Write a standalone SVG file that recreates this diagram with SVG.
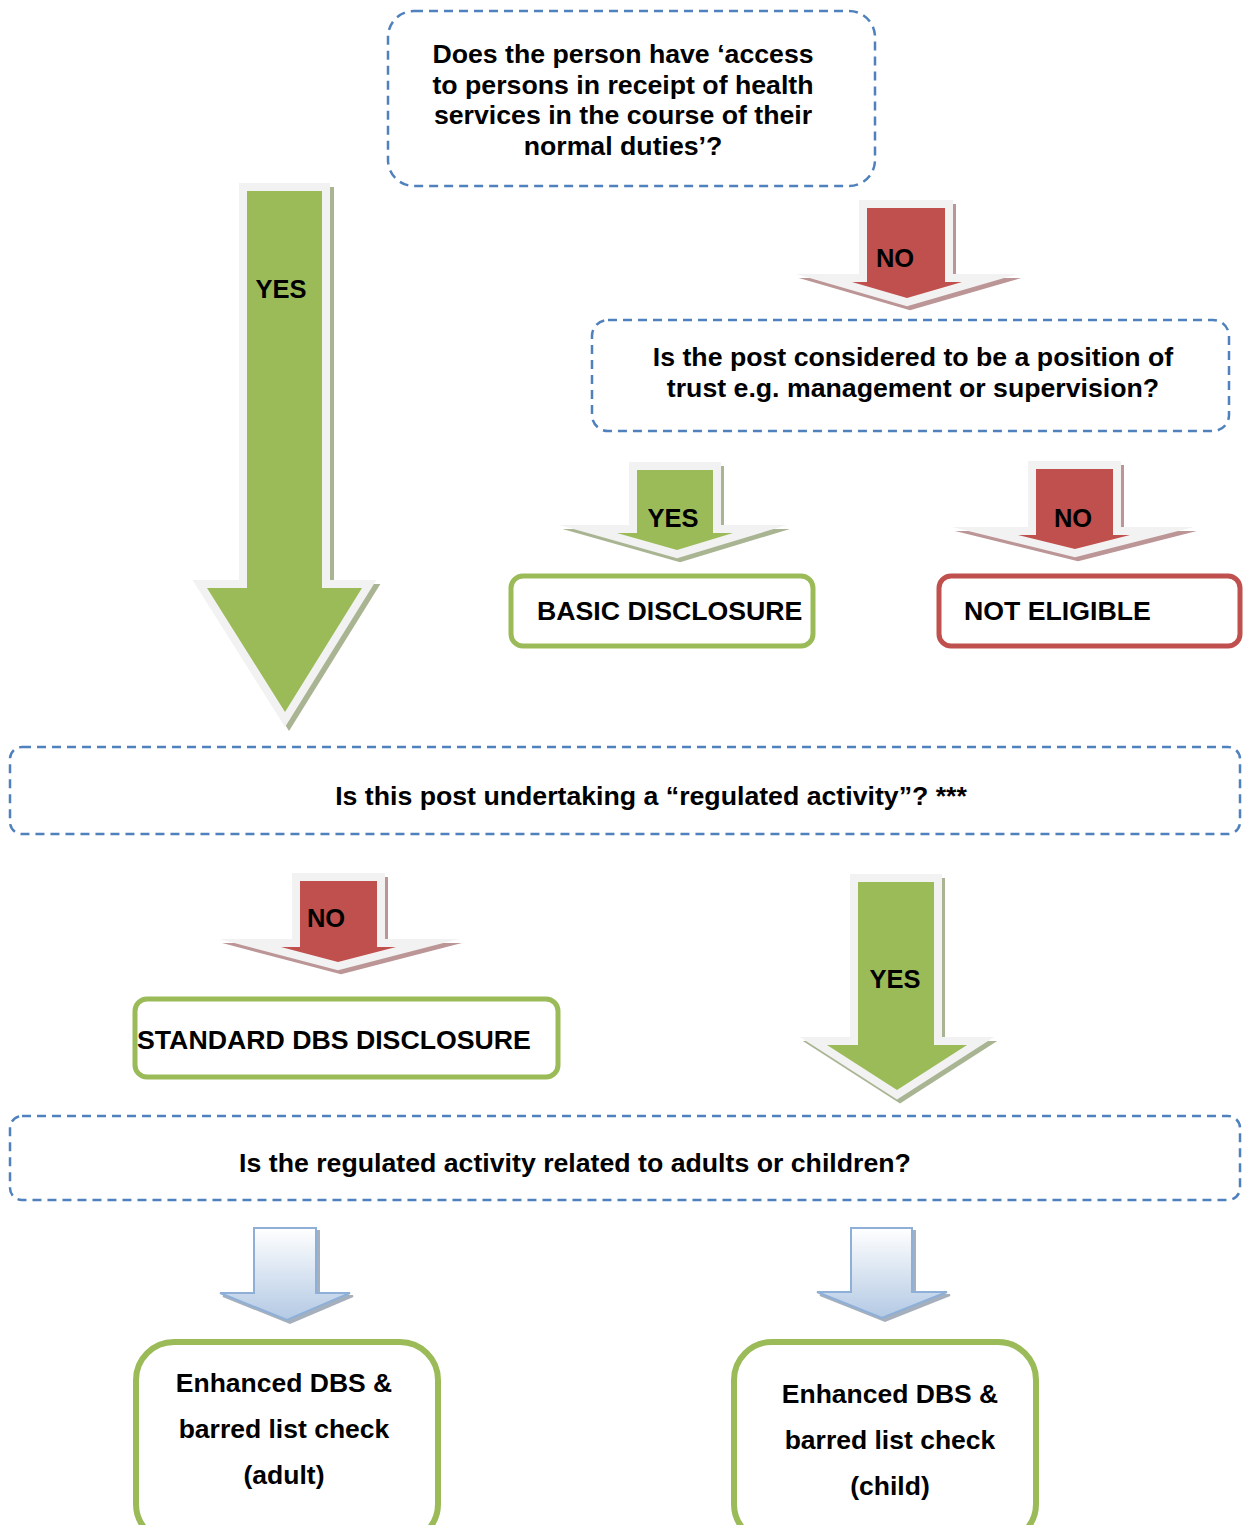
<svg xmlns="http://www.w3.org/2000/svg" width="1243" height="1525" viewBox="0 0 1243 1525">
<defs>
<linearGradient id="blueGrad" x1="0" y1="0" x2="0" y2="1">
<stop offset="0" stop-color="#ffffff"/>
<stop offset="1" stop-color="#b3c9e4"/>
</linearGradient>
</defs>
<style>
text{font-family:"Liberation Sans",Arial,sans-serif;font-weight:bold;fill:#000;}
.t{font-size:26.7px;}
.e{font-size:26.5px;}
.lbl{font-size:25.5px;text-anchor:middle;}
.c{text-anchor:middle;}
.dash{fill:#fff;stroke:#4f81bd;stroke-width:2.5;stroke-dasharray:9 6;}
.gbox{fill:#fff;stroke:#9bbb59;stroke-width:5;}
.rbox{fill:#fff;stroke:#c0504d;stroke-width:5;}
.gbig{fill:#fff;stroke:#9bbb59;stroke-width:6;}
.ga{fill:#9bbb59;stroke:#f2f2f2;stroke-width:16;stroke-linejoin:miter;stroke-miterlimit:12;paint-order:stroke fill;}
.ra{fill:#c0504d;stroke:#f2f2f2;stroke-width:16;stroke-linejoin:miter;stroke-miterlimit:12;paint-order:stroke fill;}
.gs{fill:#a9b592;stroke:#a9b592;stroke-width:16;stroke-linejoin:miter;stroke-miterlimit:12;}
.rs{fill:#bc9596;stroke:#bc9596;stroke-width:16;stroke-linejoin:miter;stroke-miterlimit:12;}
.ba{fill:url(#blueGrad);stroke:#8eb0d8;stroke-width:2;}
.bs{fill:#a6b0bd;stroke:#a6b0bd;stroke-width:2;}
</style>

<g id="connectors">
  <g id="arrow-yes-main">
    <polygon class="gs" transform="translate(4,4)" points="247,191 322,191 322,588 362,588 285,712 207,588 247,588"/>
    <polygon class="ga" points="247,191 322,191 322,588 362,588 285,712 207,588 247,588"/>
    <text class="lbl" x="281" y="298">YES</text>
  </g>
  <g id="arrow-no-top">
    <polygon class="rs" transform="translate(3,4)" points="867,208 945,208 945,282 962,282 907,298 852,282 867,282"/>
    <polygon class="ra" points="867,208 945,208 945,282 962,282 907,298 852,282 867,282"/>
    <text class="lbl" x="895" y="267">NO</text>
  </g>
  <g id="arrow-yes-basic">
    <polygon class="gs" transform="translate(3,4)" points="637,470 713,470 713,533 733,533 677,550 617,533 637,533"/>
    <polygon class="ga" points="637,470 713,470 713,533 733,533 677,550 617,533 637,533"/>
    <text class="lbl" x="673" y="527">YES</text>
  </g>
  <g id="arrow-no-noteligible">
    <polygon class="rs" transform="translate(3,4)" points="1036,469 1113,469 1113,535 1130,535 1075,549 1018,535 1036,535"/>
    <polygon class="ra" points="1036,469 1113,469 1113,535 1130,535 1075,549 1018,535 1036,535"/>
    <text class="lbl" x="1073" y="527">NO</text>
  </g>
  <g id="arrow-no-standard">
    <polygon class="rs" transform="translate(3,4)" points="300,881 377,881 377,947 396,947 338,962 281,947 300,947"/>
    <polygon class="ra" points="300,881 377,881 377,947 396,947 338,962 281,947 300,947"/>
    <text class="lbl" x="326" y="927">NO</text>
  </g>
  <g id="arrow-yes-regulated">
    <polygon class="gs" transform="translate(3,4)" points="858,882 934,882 934,1045 967,1045 897,1090 827,1045 858,1045"/>
    <polygon class="ga" points="858,882 934,882 934,1045 967,1045 897,1090 827,1045 858,1045"/>
    <text class="lbl" x="895" y="988">YES</text>
  </g>
  <g id="arrow-adult">
    <polygon class="bs" transform="translate(3,3)" points="254,1228 316,1228 316,1293 350,1293 287,1320 220,1293 254,1293"/>
    <polygon class="ba" points="254,1228 316,1228 316,1293 350,1293 287,1320 220,1293 254,1293"/>
  </g>
  <g id="arrow-child">
    <polygon class="bs" transform="translate(3,3)" points="851,1228 912,1228 912,1292 947,1292 882,1318 817,1292 851,1292"/>
    <polygon class="ba" points="851,1228 912,1228 912,1292 947,1292 882,1318 817,1292 851,1292"/>
  </g>
</g>

<g id="q-access">
  <rect class="dash" x="388" y="11" width="487" height="175" rx="26"/>
  <text class="t c" x="623" y="63">Does the person have ‘access</text>
  <text class="t c" x="623" y="94">to persons in receipt of health</text>
  <text class="t c" x="623" y="124">services in the course of their</text>
  <text class="t c" x="623" y="155">normal duties’?</text>
</g>

<g id="q-trust">
  <rect class="dash" x="592" y="320" width="637" height="111" rx="16"/>
  <text class="t c" x="913" y="366">Is the post considered to be a position of</text>
  <text class="t c" x="913" y="397">trust e.g. management or supervision?</text>
</g>

<g id="basic-disclosure">
  <rect class="gbox" x="511" y="576" width="302" height="70" rx="12"/>
  <text class="t" x="537" y="620">BASIC DISCLOSURE</text>
</g>

<g id="not-eligible">
  <rect class="rbox" x="939" y="576" width="301" height="70" rx="12"/>
  <text class="t" x="964" y="620">NOT ELIGIBLE</text>
</g>

<g id="q-regulated">
  <rect class="dash" x="10" y="747" width="1230" height="87" rx="12"/>
  <text class="t c" x="651" y="805">Is this post undertaking a “regulated activity”? ***</text>
</g>

<g id="standard-dbs">
  <rect class="gbox" x="135" y="999" width="423" height="78" rx="12"/>
  <text class="t" x="137" y="1049">STANDARD DBS DISCLOSURE</text>
</g>

<g id="q-adults-children">
  <rect class="dash" x="10" y="1116" width="1230" height="84" rx="12"/>
  <text class="t c" x="575" y="1172">Is the regulated activity related to adults or children?</text>
</g>

<g id="enhanced-adult">
  <rect class="gbig" x="136" y="1342" width="302" height="200" rx="38"/>
  <text class="e c" x="284" y="1392">Enhanced DBS &amp;</text>
  <text class="e c" x="284" y="1438">barred list check</text>
  <text class="e c" x="284" y="1484">(adult)</text>
</g>

<g id="enhanced-child">
  <rect class="gbig" x="734" y="1342" width="302" height="200" rx="38"/>
  <text class="e c" x="890" y="1403">Enhanced DBS &amp;</text>
  <text class="e c" x="890" y="1449">barred list check</text>
  <text class="e c" x="890" y="1495">(child)</text>
</g>
</svg>
